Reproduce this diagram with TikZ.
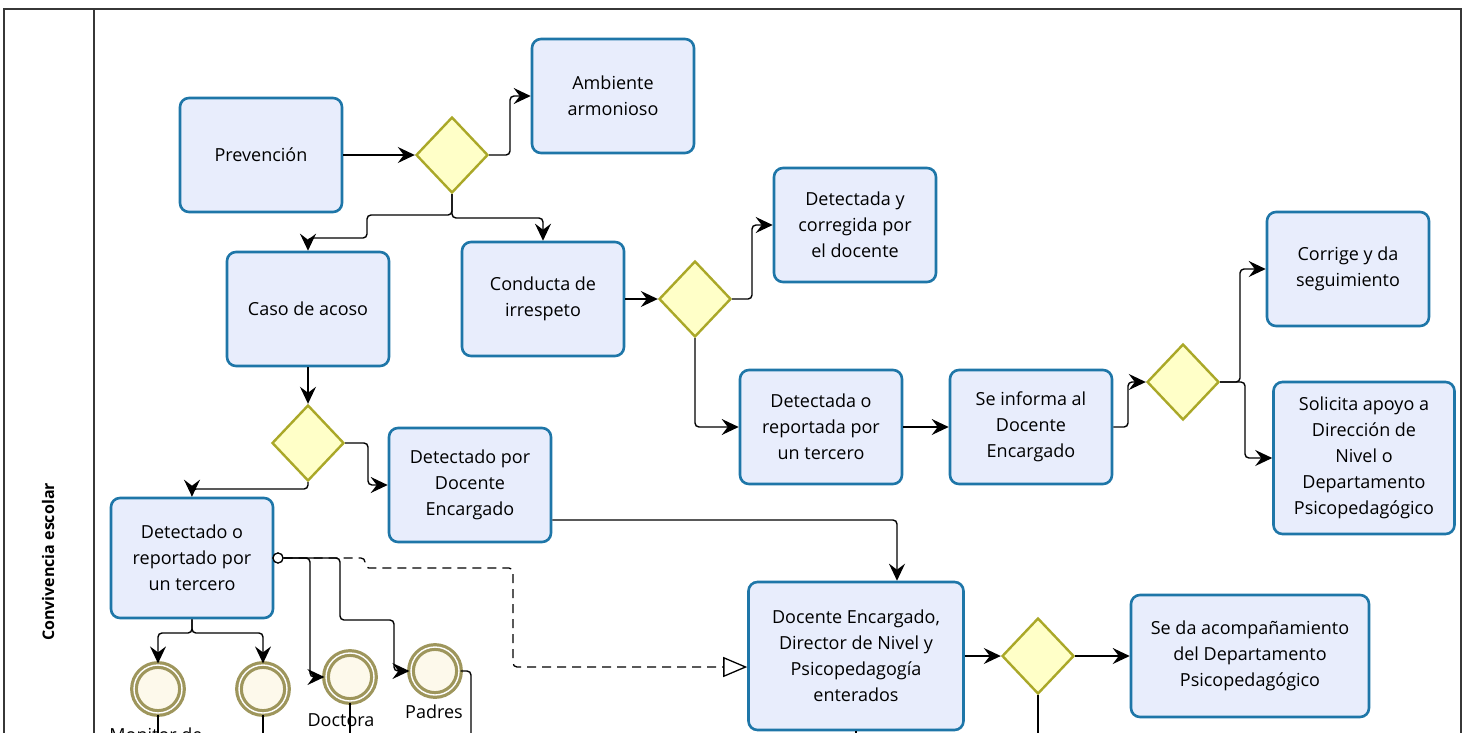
\documentclass[tikz,border=0pt]{standalone}
\usepackage{fontspec}
\setmainfont{Open Sans}
\usetikzlibrary{shapes.geometric,arrows.meta,calc}
\definecolor{taskfill}{RGB}{232,237,252}
\definecolor{taskline}{RGB}{30,118,168}
\definecolor{gatefill}{RGB}{255,255,200}
\definecolor{gateline}{RGB}{170,168,40}
\definecolor{evfill}{RGB}{253,249,235}
\definecolor{evline}{RGB}{158,150,92}
\definecolor{poolline}{RGB}{55,55,55}
\begin{document}
\begin{tikzpicture}[x=1pt, y=-1pt,
	task/.style={draw=taskline, fill=taskfill, line width=2.6pt, rounded corners=9pt, align=center, inner sep=0pt, minimum width=162pt, minimum height=114pt, font=\fontsize{18}{26}\selectfont},
	gate/.style={diamond, draw=gateline, fill=gatefill, line width=2.4pt, minimum width=72pt, minimum height=76pt, inner sep=0pt},
	endev/.style={circle, draw=evline, fill=evfill, line width=3.2pt, double=white, double distance=1.4pt, minimum size=48pt, inner sep=0pt},
	evlabel/.style={inner sep=0pt, font=\fontsize{18}{22}\selectfont},
	flow/.style={line width=1.4pt, rounded corners=4pt, -{Stealth[length=17pt, width=16pt, inset=6pt]}},
	openend/.style={line width=1.4pt, rounded corners=4pt},
	msgflow/.style={line width=1.3pt, rounded corners=4pt, dash pattern=on 9pt off 6pt, -{Triangle[open, length=24pt, width=20pt]}}]
	\useasboundingbox (0,0) rectangle (1469,732);
	\clip (0,0) rectangle (1469,732);
	\fill[white] (0,0) rectangle (1469,732);
	
	% pool and lane
	\draw[poolline, line width=1.5pt] (4,9) rectangle (1461,800);
	\draw[poolline, line width=1.5pt] (94,9) -- (94,800);
	\node[rotate=90, font=\fontsize{16}{18}\selectfont\bfseries] (pool) at (48,562) {Convivencia escolar};
	
	% tasks
	\node[task] (prev) at (261,155) {Prevención};
	\node[task] (amb) at (613,96) {Ambiente\\armonioso};
	\node[task] (caso) at (308,309) {Caso de acoso};
	\node[task] (cond) at (543,299) {Conducta de\\irrespeto};
	\node[task] (dcorr) at (855,225) {Detectada y\\corregida por\\el docente};
	\node[task] (ddoc) at (470,485) {Detectado por\\Docente\\Encargado};
	\node[task, minimum height=120pt] (dter) at (192,558) {Detectado o\\reportado por\\un tercero};
	\node[task] (dtera) at (821,427) {Detectada o\\reportada por\\un tercero};
	\node[task] (info) at (1031,427) {Se informa al\\Docente\\Encargado};
	\node[task] (corr) at (1348,269) {Corrige y da\\seguimiento};
	\node[task, minimum width=181pt, minimum height=152pt] (apoyo) at (1364,458) {Solicita apoyo a\\Dirección de\\Nivel o\\Departamento\\Psicopedagógico};
	\node[task, minimum width=215pt, minimum height=148pt] (ent) at (856,656) {Docente Encargado,\\Director de Nivel y\\Psicopedagogía\\enterados};
	\node[task, minimum width=238pt, minimum height=122pt] (acomp) at (1250,656) {Se da acompañamiento\\del Departamento\\Psicopedagógico};
	
	% gateways
	\foreach \n/\x/\y in {g1/452/155, g2/695/299, g3/308/443, g4/1183/382, g5/1038/656}
	\node[gate] (\n) at (\x,\y) {};
	
	% end events
	\foreach \n/\x/\y in {e1/158/689, e2/263/689, e3/350/677, e4/435/671}
	\node[endev] (\n) at (\x,\y) {};
	\node[evlabel] (e1lab) at (156,735) {Monitor de};
	\node[evlabel] (e3lab) at (341,720) {Doctora};
	\node[evlabel] (e4lab) at (434,712) {Padres};
	
	% sequence flows
	\draw[flow] (prev.east) -- (g1.west);
	\draw[flow] (g1.east) -- (510,155) |- (amb.west);
	\draw[flow] (g1.south) |- (367,215) -- (367,238) -| (caso.north);
	\draw[flow] (g1.south) |- (543,218) -- (cond.north);
	\draw[flow] (cond.east) -- (g2.west);
	\draw[flow] (g2.east) -- (752,299) |- (dcorr.west);
	\draw[flow] (g2.south) |- (dtera.west);
	\draw[flow] (dtera.east) -- (info.west);
	\draw[flow] (info.east) -- (1128,427) |- (g4.west);
	\draw[flow] (g4.east) -- (1240,382) |- (corr.west);
	\draw[flow] (g4.east) -- (1245,382) |- (apoyo.west);
	\draw[flow] (caso.south) -- (g3.north);
	\draw[flow] (g3.south) -- (308,489) -| (dter.north);
	\draw[flow] (g3.east) -- (368,443) |- (ddoc.west);
	\draw[flow] ($(ddoc.east)+(0,35)$) -| ($(ent.north)+(41,0)$);
	\draw[flow] (ent.east) -- (g5.west);
	\draw[flow] (g5.east) -- (acomp.west);
	\draw[flow] (dter.south) -- (192,633) -| (e1.north);
	\draw[flow] (dter.south) -- (192,633) -| (e2.north);
	
	% flows leaving the picture
	\coordinate (e1out) at (158,770);
	\coordinate (e2out) at (263,770);
	\coordinate (e3out) at (350,770);
	\coordinate (e4out) at (471,770);
	\coordinate (entout) at (856,770);
	\coordinate (g5out) at (1038,770);
	\draw[openend] (e1.south) -- (e1out);
	\draw[openend] (e2.south) -- (e2out);
	\draw[openend] (e3.south) -- (e3out);
	\draw[openend] (e4.east) -| (e4out);
	\draw[openend] (ent.south) -- (entout);
	\draw[openend] (g5.south) -- (g5out);
	
	% message flows
	\node[circle, draw, fill=white, line width=1.2pt, minimum size=10pt, inner sep=0pt] (msg) at (278,558) {};
	\draw[flow] (msg.east) -- (310,558) |- (e3.west);
	\draw[flow] (msg.east) -| (340,620) -- (394,620) |- (e4.west);
	\draw[msgflow] (msg.east) -| (365,568) -- (513,568) |- ($(ent.west)+(0,11)$);
	\node[circle, draw, fill=white, line width=1.2pt, minimum size=10pt, inner sep=0pt] at (msg) {};
\end{tikzpicture}
\end{document}
